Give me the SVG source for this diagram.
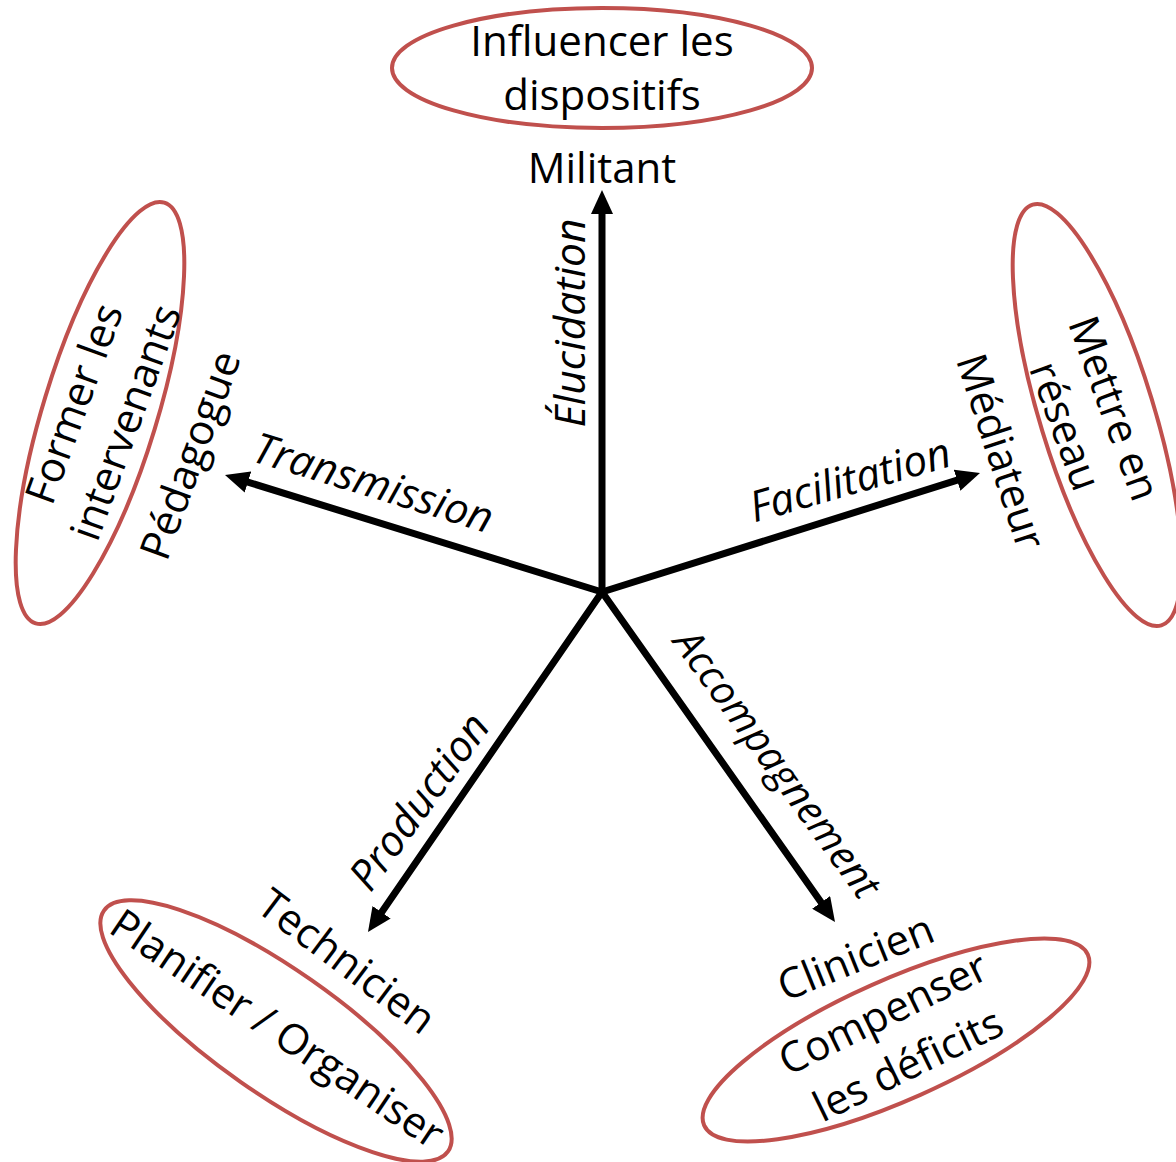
<svg xmlns="http://www.w3.org/2000/svg" width="1176" height="1162" viewBox="0 0 1176 1162">
<style>
.t{font-family:"Open Sans","Noto Sans","DejaVu Sans",sans-serif;font-size:42px;fill:#000;text-anchor:middle}
.i{font-style:italic;font-size:42.5px}
.el{fill:none;stroke:#C0504D;stroke-width:4}
.ax{stroke:#000;stroke-width:7;fill:none;stroke-linecap:round;marker-end:url(#ah)}
</style>
<defs>
<marker id="ah" viewBox="0 0 24 22" markerWidth="24" markerHeight="22" refX="6" refY="11" markerUnits="userSpaceOnUse" orient="auto">
<path d="M0,0 L24,11 L0,22 z" fill="#000"/>
</marker>
</defs>
<rect width="1176" height="1162" fill="#fff"/>
<g id="connectors">
<line class="ax" x1="602" y1="592" x2="602" y2="208"/>
<line class="ax" x1="602" y1="592" x2="242.2" y2="480.3"/>
<line class="ax" x1="602" y1="592" x2="962.8" y2="478.4"/>
<line class="ax" x1="602" y1="592" x2="378.2" y2="917.2"/>
<line class="ax" x1="602" y1="592" x2="824.6" y2="907.3"/>
<text class="t i" transform="translate(585,323) rotate(-90)">Élucidation</text>
<text class="t i" transform="translate(369,497) rotate(17)">Transmission</text>
<text class="t i" transform="translate(854,494) rotate(-16)">Facilitation</text>
<text class="t i" transform="translate(431,810) rotate(-54)">Production</text>
<text class="t i" style="font-size:40.5px" transform="translate(766,772) rotate(54)">Accompagnement</text>
</g>
<g id="militant">
<ellipse class="el" cx="602" cy="68" rx="210" ry="60"/>
<text class="t" x="602" y="56">Influencer les</text>
<text class="t" x="602" y="110">dispositifs</text>
<text class="t" x="602" y="183">Militant</text>
</g>
<g id="pedagogue">
<g transform="translate(100,413)">
<ellipse class="el" rx="220" ry="57" transform="rotate(-73)"/>
<g transform="rotate(-70)">
<text class="t" y="-13">Former les</text>
<text class="t" y="42">intervenants</text>
</g>
</g>
<text class="t" transform="translate(204,460) rotate(-70)">Pédagogue</text>
</g>
<g id="mediateur">
<ellipse class="el" rx="220" ry="57" transform="translate(1097,415) rotate(73)"/>
<g transform="translate(1093,416) rotate(70)">
<text class="t" y="-8">Mettre en</text>
<text class="t" y="44">réseau</text>
</g>
<text class="t" transform="translate(987,456) rotate(72)">Médiateur</text>
</g>
<g id="technicien">
<g transform="translate(276,1031)">
<ellipse class="el" rx="210" ry="62" transform="rotate(35)"/>
<text class="t" y="12" transform="rotate(34)">Planifier / Organiser</text>
</g>
<text class="t" transform="translate(338,973) rotate(37)">Technicien</text>
</g>
<g id="clinicien">
<g transform="translate(896,1040)">
<ellipse class="el" rx="210" ry="60" transform="rotate(-24)"/>
<g transform="rotate(-26)">
<text class="t" y="-15">Compenser</text>
<text class="t" y="42">les déficits</text>
</g>
</g>
<text class="t" transform="translate(861,971) rotate(-22)">Clinicien</text>
</g>
</svg>
